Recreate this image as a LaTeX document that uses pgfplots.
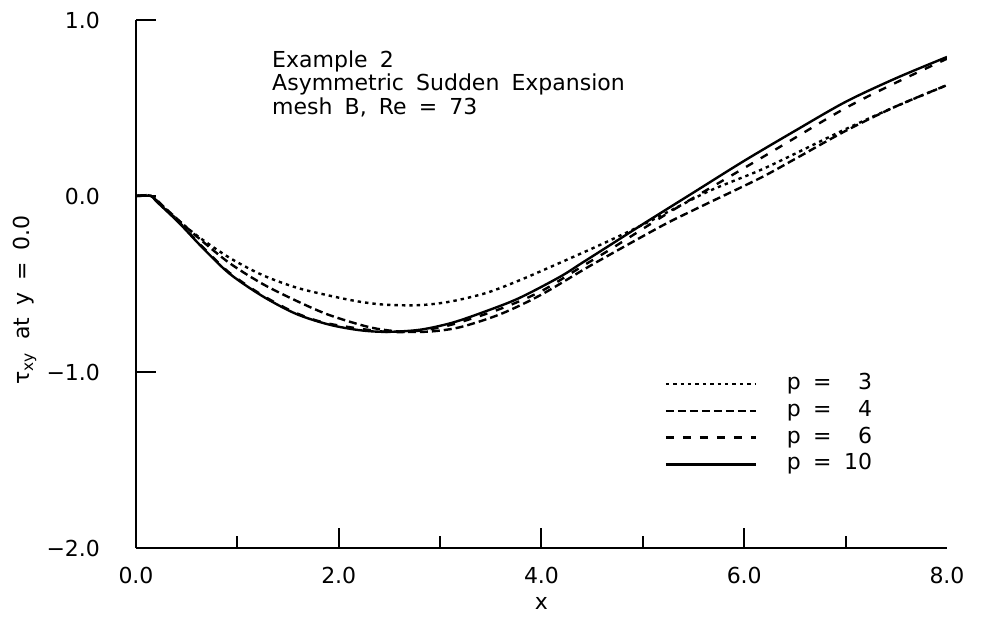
\documentclass[border=0pt]{standalone}
\usepackage{fontspec}
\setmainfont{DejaVu Sans}
\usepackage{pgfplots}
\pgfplotsset{compat=1.18}
\newcommand\wsp{\hspace{0.55em}}
\begin{document}
\begin{tikzpicture}
\useasboundingbox (-68pt,-36.5pt) rectangle (424.5pt,274pt);
\begin{axis}[
  scale only axis, width=405.5pt, height=264pt,
  at={(0pt,0pt)}, anchor=south west,
  xmin=0, xmax=8, ymin=-2, ymax=1,
  axis x line*=bottom, axis y line*=left,
  axis line style={-, line width=1pt},
  tick align=inside,
  major tick length=10pt, minor tick length=6pt,
  every tick/.style={black, line width=1pt},
  xtick={0,2,4,6}, xticklabels={0.0,2.0,4.0,6.0},
  minor xtick={1,3,5,7},
  extra x ticks={8}, extra x tick labels={8.0},
  extra x tick style={major tick length=0pt},
  ytick={-2,-1,0,1}, yticklabels={−2.0,−1.0,0.0,1.0},
  font=\fontsize{11}{13}\selectfont,
  xticklabel style={anchor=center, yshift=-13.5pt},
  yticklabel style={anchor=east, xshift=-14.5pt},
  xlabel={x}, ylabel={τ\textsubscript{xy}\wsp at\wsp y\wsp =\wsp 0.0},
  every axis x label/.style={at={(axis description cs:0.5,0)}, yshift=-27.5pt, anchor=center},
  every axis y label/.style={at={(axis description cs:-0.137,0.47)}, rotate=90, anchor=center},
  legend image code/.code={\draw[#1] (0pt,0pt) -- (45pt,0pt);},
  legend cell align=left,
  legend style={at={(axis cs:5.21,-1.0)}, anchor=north west, draw=none, fill=none,
    inner sep=0pt, row sep=1.9pt,
    nodes={inner sep=0.5pt, text height=8pt, text depth=2.5pt},
    /tikz/every odd column/.append style={column sep=14.5pt}},
]
\addplot[black, line width=1.2pt, dash pattern=on 1.7pt off 2pt, smooth, tension=0.5] coordinates {
(0,0)(0.15,0)(0.3,-0.08)(0.59,-0.22)(0.92,-0.35)(1.25,-0.45)(1.58,-0.52)(1.9,-0.565)(2.2,-0.6)(2.47,-0.618)(2.8,-0.62)(3.1,-0.60)(3.46,-0.55)(3.8,-0.475)(4.18,-0.38)(4.57,-0.28)(4.94,-0.18)(5.3,-0.075)(5.66,0.03)(6.15,0.145)(6.5,0.24)(7.0,0.38)(7.5,0.51)(8.0,0.63)};
\addlegendentry{p\wsp=\wsp\makebox[1.3em][r]{3}}
\addplot[black, line width=1.2pt, dash pattern=on 4pt off 2pt, smooth, tension=0.5] coordinates {
(0,0)(0.15,0)(0.3,-0.075)(0.6,-0.23)(0.92,-0.38)(1.25,-0.50)(1.58,-0.595)(1.9,-0.675)(2.3,-0.745)(2.6,-0.77)(2.9,-0.77)(3.2,-0.745)(3.6,-0.67)(4.0,-0.56)(4.5,-0.39)(5.17,-0.175)(5.5,-0.08)(6.15,0.10)(6.5,0.21)(7.0,0.37)(7.5,0.51)(8.0,0.63)};
\addlegendentry{p\wsp=\wsp\makebox[1.3em][r]{4}}
\addplot[black, line width=1.2pt, dash pattern=on 4pt off 4.5pt, smooth, tension=0.5] coordinates {
(0,0)(0.15,0)(0.2,-0.025)(0.42,-0.145)(0.65,-0.285)(0.92,-0.435)(1.25,-0.565)(1.58,-0.665)(1.9,-0.725)(2.47,-0.772)(2.8,-0.765)(3.12,-0.73)(3.6,-0.64)(4.0,-0.54)(4.4,-0.40)(4.66,-0.31)(5.17,-0.125)(5.5,-0.01)(6.15,0.21)(6.5,0.33)(7.0,0.50)(7.5,0.645)(8.0,0.78)};
\addlegendentry{p\wsp=\wsp\makebox[1.3em][r]{6}}
\addplot[black, line width=1.2pt, smooth, tension=0.5] coordinates {
(0,0)(0.15,0)(0.2,-0.03)(0.42,-0.15)(0.65,-0.29)(0.92,-0.44)(1.25,-0.57)(1.58,-0.67)(1.9,-0.73)(2.2,-0.762)(2.47,-0.772)(2.8,-0.76)(3.12,-0.72)(3.45,-0.655)(3.78,-0.58)(4.18,-0.46)(4.4,-0.38)(4.66,-0.285)(5.0,-0.16)(5.5,0.02)(6.0,0.20)(6.5,0.37)(7.0,0.535)(7.5,0.67)(8.0,0.79)};
\addlegendentry{p\wsp=\wsp\makebox[1.3em][r]{10}}
\node[anchor=north west, align=left, inner sep=0pt, font=\fontsize{11}{11.75}\selectfont] at (axis cs:1.34,0.83)
  {Example\wsp 2\\Asymmetric\wsp Sudden\wsp Expansion\\mesh\wsp B,\wsp Re\wsp =\wsp 73};
\end{axis}
\end{tikzpicture}
\end{document}
